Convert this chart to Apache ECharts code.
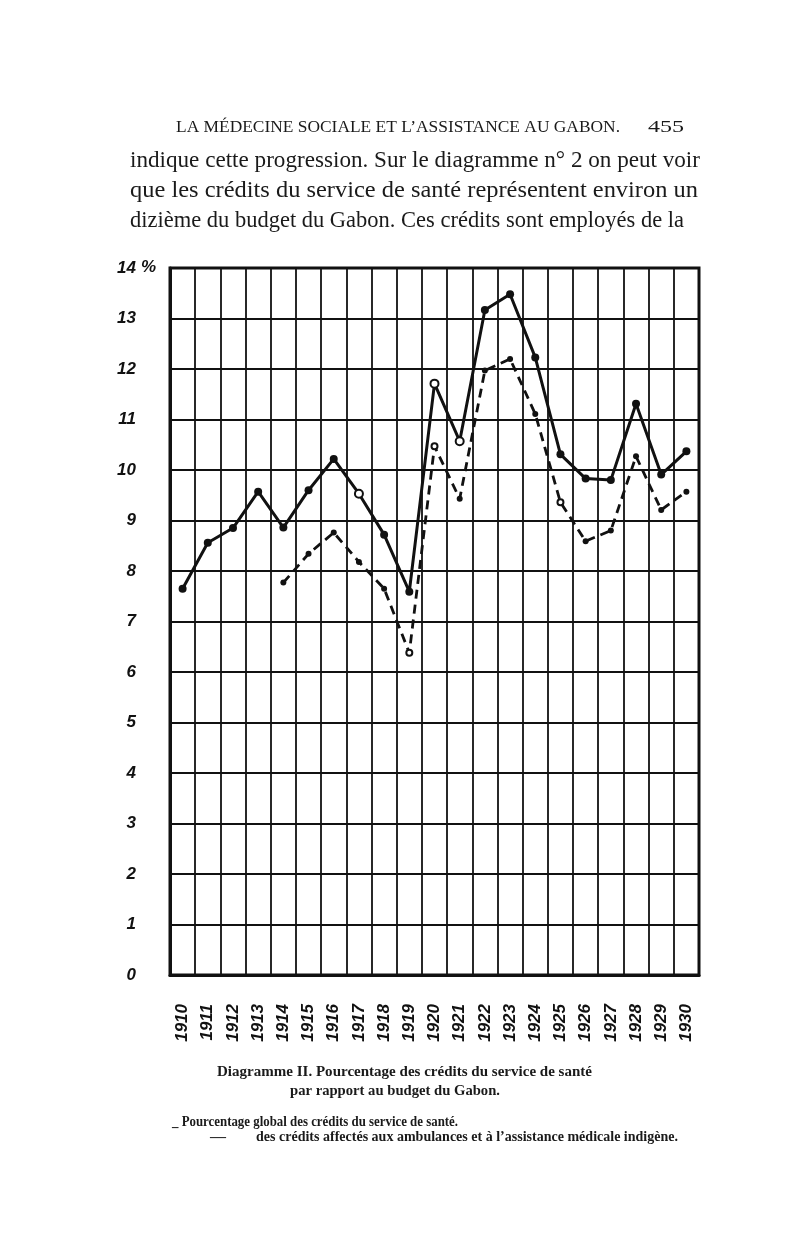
<!DOCTYPE html>
<html>
<head>
<meta charset="utf-8">
<script src="https://cdn.jsdelivr.net/npm/echarts@6/dist/echarts.min.js"></script>
<style>
html,body{margin:0;padding:0;background:#fff;}
#c{width:800px;height:1245px;}
</style>
</head>
<body>
<div id="c"></div>
<script>
// ---- data ----
var years = ['1910','1911','1912','1913','1914','1915','1916','1917','1918','1919','1920',
             '1921','1922','1923','1924','1925','1926','1927','1928','1929','1930'];
// Pourcentage global des crédits du service de santé (solid)
var globalPct = [7.65, 8.56, 8.85, 9.57, 8.86, 9.6, 10.22, 9.53, 8.72, 7.59, 11.71,
                 10.57, 13.17, 13.48, 12.23, 10.31, 9.83, 9.8, 11.31, 9.91, 10.37];
// des crédits affectés aux ambulances et à l'assistance médicale indigène (dashed)
var ambulPct = [null, null, null, null, 7.77, 8.34, 8.76, 8.18, 7.65, 6.38, 10.47,
                9.43, 11.97, 12.2, 11.11, 9.36, 8.59, 8.8, 10.27, 9.21, 9.57];
var yTicks = [0,1,2,3,4,5,6,7,8,9,10,11,12,13,14];

var headerText = "LA MÉDECINE SOCIALE ET L’ASSISTANCE AU GABON.";
var pageNo = "455";
var paraLines = [
  "indique cette progression. Sur le diagramme n° 2 on peut voir",
  "que les crédits du service de santé représentent environ un",
  "dizième du budget du Gabon. Ces crédits sont employés de la"
];
var caption1 = "Diagramme II. Pourcentage des crédits du service de santé";
var caption2 = "par rapport au budget du Gabon.";
var legend1 = "_ Pourcentage global des crédits du service de santé.";
var legend2dash = "—";
var legend2 = "des crédits affectés aux ambulances et à l’assistance médicale indigène.";

// ---- helpers ----
var mctx = document.createElement('canvas').getContext('2d');
function fitText(text, font, left, right, y) {
  mctx.font = font;
  var w = mctx.measureText(text).width;
  return {
    type: 'text', x: left, y: y, scaleX: (right - left) / w, z: 10,
    style: { text: text, font: font, fill: '#1a1a1a', align: 'left', verticalAlign: 'middle' }
  };
}
var serif = '"Liberation Serif", "DejaVu Serif", serif';

var hollowGlobal = ['1917','1920','1921'];
var hollowAmbul = ['1919','1920','1925'];
function pts(vals, hollow, size) {
  return vals.map(function (v, i) {
    if (v === null) return null;
    var h = hollow.indexOf(years[i]) >= 0;
    return { value: v, symbolSize: size,
      itemStyle: h ? { color: '#fff', borderColor: '#111', borderWidth: 2 } : { color: '#111' } };
  });
}

var chart = echarts.init(document.getElementById('c'), null, { renderer: 'canvas' });
var option = {
  backgroundColor: '#ffffff',
  animation: false,
  grid: { left: 170, right: 101, top: 268, bottom: 270, show: true,
          borderColor: '#111', borderWidth: 3, containLabel: false },
  xAxis: {
    type: 'category', data: years, boundaryGap: true,
    axisLine: { show: true, lineStyle: { color: '#111', width: 3 } },
    axisTick: { show: false },
    splitLine: { show: true, interval: 0, lineStyle: { color: '#111', width: 1.8 } },
    axisLabel: { interval: 0, rotate: 90, margin: 29, color: '#111',
      fontFamily: '"Liberation Sans", sans-serif', fontStyle: 'italic', fontWeight: 'bold', fontSize: 17 }
  },
  yAxis: {
    type: 'value', min: 0, max: 14, interval: 1,
    axisLine: { show: true, lineStyle: { color: '#111', width: 3 } },
    axisTick: { show: false },
    splitLine: { show: true, lineStyle: { color: '#111', width: 1.8 } },
    axisLabel: { margin: 34, color: '#111', padding: [0, 0, 9, 0],
      fontFamily: '"Liberation Sans", sans-serif', fontStyle: 'italic', fontWeight: 'bold', fontSize: 17,
      formatter: function (v) { return yTicks.indexOf(v) >= 0 ? String(v) : ''; } }
  },
  series: [
    { name: 'Pourcentage global', type: 'line', data: pts(globalPct, hollowGlobal, 8),
      symbol: 'circle', lineStyle: { color: '#111', width: 3 }, itemStyle: { color: '#111' }, z: 5 },
    { name: 'Ambulances et assistance médicale indigène', type: 'line', data: pts(ambulPct, hollowAmbul, 6),
      symbol: 'circle', connectNulls: false,
      lineStyle: { color: '#111', width: 2.8, type: [9, 6] }, itemStyle: { color: '#111' }, z: 4 }
  ],
  graphic: [
    fitText(headerText, '17px ' + serif, 176, 620, 128),
    fitText(pageNo, '17px ' + serif, 648, 684, 128),
    fitText(paraLines[0], '23px ' + serif, 130, 700, 161),
    fitText(paraLines[1], '23px ' + serif, 130, 698, 191),
    fitText(paraLines[2], '23px ' + serif, 130, 684, 221),
    { type: 'text', x: 141, y: 267, z: 10,
      style: { text: '%', font: 'italic bold 17px "Liberation Sans", sans-serif', fill: '#111',
               align: 'left', verticalAlign: 'middle' } },
    fitText(caption1, 'bold 15px ' + serif, 217, 592, 1072),
    fitText(caption2, 'bold 15px ' + serif, 290, 500, 1091),
    fitText(legend1, 'bold 14px ' + serif, 172, 458, 1122),
    fitText(legend2dash, 'bold 14px ' + serif, 210, 226, 1137),
    fitText(legend2, 'bold 14px ' + serif, 256, 678, 1137)
  ]
};
chart.setOption(option);
</script>
</body>
</html>
